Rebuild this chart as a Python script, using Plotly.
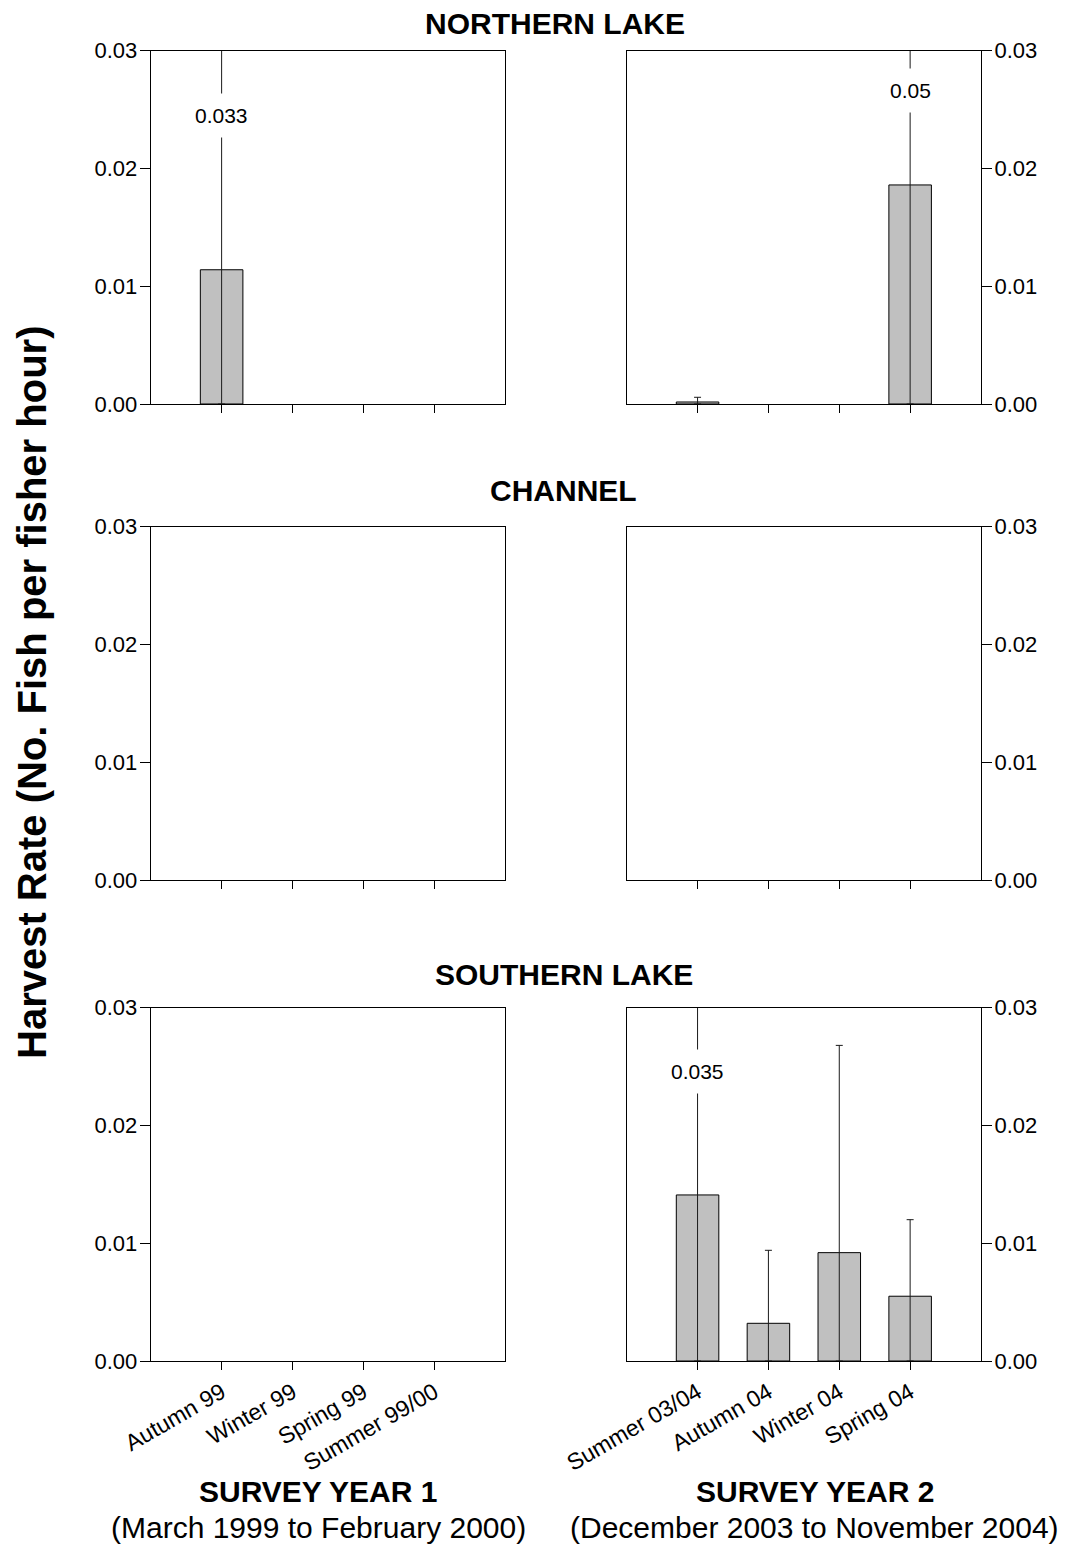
import plotly.graph_objects as go

# ---------------- data ----------------
seasons_y1 = ["Autumn 99", "Winter 99", "Spring 99", "Summer 99/00"]
seasons_y2 = ["Summer 03/04", "Autumn 04", "Winter 04", "Spring 04"]

north_y1 = [0.0114, 0.0, 0.0, 0.0]
north_y1_upper = [0.033, 0.0, 0.0, 0.0]
north_y2 = [0.00017, 0.0, 0.0, 0.0186]
north_y2_upper = [0.00057, 0.0, 0.0, 0.05]

channel_y1 = [0.0, 0.0, 0.0, 0.0]
channel_y1_upper = [0.0, 0.0, 0.0, 0.0]
channel_y2 = [0.0, 0.0, 0.0, 0.0]
channel_y2_upper = [0.0, 0.0, 0.0, 0.0]

south_y1 = [0.0, 0.0, 0.0, 0.0]
south_y1_upper = [0.0, 0.0, 0.0, 0.0]
south_y2 = [0.0141, 0.0032, 0.0092, 0.0055]
south_y2_upper = [0.035, 0.0094, 0.0268, 0.0120]

region_titles = ["NORTHERN LAKE", "CHANNEL", "SOUTHERN LAKE"]
y_ticks = [0.0, 0.01, 0.02, 0.03]
y_max = 0.03

# ---------------- layout helpers ----------------
W, H = 1072, 1546
FONT = "Liberation Sans, Arial, sans-serif"


def px_x(p):
    return p / W


def px_y(p):
    return 1 - p / H


col_dom = [[px_x(150.7), px_x(505.3)], [px_x(626.7), px_x(981.0)]]
row_pix = [(50.7, 404.0), (526.7, 880.0), (1007.7, 1361.0)]
row_dom = [[px_y(b), px_y(t)] for (t, b) in row_pix]

panels = [
    (0, 0, seasons_y1, north_y1, north_y1_upper),
    (0, 1, seasons_y2, north_y2, north_y2_upper),
    (1, 0, seasons_y1, channel_y1, channel_y1_upper),
    (1, 1, seasons_y2, channel_y2, channel_y2_upper),
    (2, 0, seasons_y1, south_y1, south_y1_upper),
    (2, 1, seasons_y2, south_y2, south_y2_upper),
]

# vertical position (data units) of the label of an off-scale error bar, per panel
label_pos = {(0, 0): 0.0245, (0, 1): 0.0266, (2, 1): 0.0246}

fig = go.Figure()
layout = dict(
    template="none",
    width=W, height=H,
    margin=dict(l=0, r=0, t=0, b=0, pad=0),
    paper_bgcolor="white", plot_bgcolor="white",
    showlegend=False,
    font=dict(family=FONT, color="black", size=22),
)
annotations = []

for i, (r, c, cats, vals, upp) in enumerate(panels):
    n = i + 1
    xa = "x" if n == 1 else f"x{n}"
    ya = "y" if n == 1 else f"y{n}"
    # zero-valued seasons have no bar drawn
    shown = [v if v > 0 else None for v in vals]
    err_plus = [max(u - v, 0.0) if v > 0 else None for u, v in zip(upp, vals)]
    err_minus = [v if v > 0 else None for v in vals]
    fig.add_trace(go.Bar(
        x=cats, y=shown, xaxis=xa, yaxis=ya,
        width=0.6,
        marker=dict(color="#c0c0c0", line=dict(color="black", width=1)),
        error_y=dict(type="data", symmetric=False, array=err_plus,
                     arrayminus=err_minus, color="#1a1a1a", thickness=1, width=3.5),
        hoverinfo="skip",
    ))
    xkey = "xaxis" if n == 1 else f"xaxis{n}"
    ykey = "yaxis" if n == 1 else f"yaxis{n}"
    layout[xkey] = dict(
        domain=col_dom[c], anchor=ya, type="category",
        categoryorder="array", categoryarray=cats,
        range=[-1, 4], showline=True, linecolor="black", linewidth=1,
        mirror=True, ticks="outside", ticklen=8, tickwidth=1, tickcolor="black",
        showgrid=False, zeroline=False, fixedrange=True, automargin=False,
        showticklabels=(r == 2), tickangle=-30,
        tickfont=dict(size=23, family=FONT),
    )
    layout[ykey] = dict(
        domain=row_dom[r], anchor=xa, range=[0, y_max],
        side="left" if c == 0 else "right",
        tickvals=y_ticks, tickformat=".2f",
        showline=True, linecolor="black", linewidth=1, mirror=True,
        ticks="outside", ticklen=10, tickwidth=1, tickcolor="black",
        ticklabelstandoff=-2,
        showgrid=False, zeroline=False, fixedrange=True, automargin=False,
        tickfont=dict(size=22, family=FONT),
    )
    # labels for error bars running off the top of the scale
    for cat, u in zip(cats, upp):
        if u > y_max:
            annotations.append(dict(
                x=cat, y=label_pos[(r, c)], xref=xa, yref=ya,
                text=f"{u:g}", showarrow=False, bgcolor="white",
                borderpad=10, font=dict(size=21, family=FONT),
                xanchor="center", yanchor="middle",
            ))

# region titles
title_pos = [(554.5, 23.5), (563.7, 490.5), (564.0, 974.5)]
for t, (tx, ty) in zip(region_titles, title_pos):
    annotations.append(dict(
        x=px_x(tx), y=px_y(ty), xref="paper", yref="paper",
        text=f"<b>{t}</b>", showarrow=False, xanchor="center", yanchor="middle",
        font=dict(size=30, family=FONT),
    ))

# survey year captions
for tx, head, sub in [(318, "SURVEY YEAR 1", "(March 1999 to February 2000)"),
                      (814.5, "SURVEY YEAR 2", "(December 2003 to November 2004)")]:
    annotations.append(dict(
        x=px_x(tx), y=px_y(1491), xref="paper", yref="paper",
        text=f"<b>{head}</b>", showarrow=False, xanchor="center", yanchor="middle",
        font=dict(size=30, family=FONT),
    ))
    annotations.append(dict(
        x=px_x(tx), y=px_y(1527), xref="paper", yref="paper",
        text=sub, showarrow=False, xanchor="center", yanchor="middle",
        font=dict(size=30, family=FONT),
    ))

# shared y-axis title
annotations.append(dict(
    x=px_x(32), y=px_y(693), xref="paper", yref="paper",
    text="<b>Harvest Rate (No. Fish per fisher hour)</b>", showarrow=False,
    textangle=-90, xanchor="center", yanchor="middle",
    font=dict(size=40, family=FONT),
))

layout["annotations"] = annotations
fig.update_layout(**layout)
fig.write_html("out.html")
